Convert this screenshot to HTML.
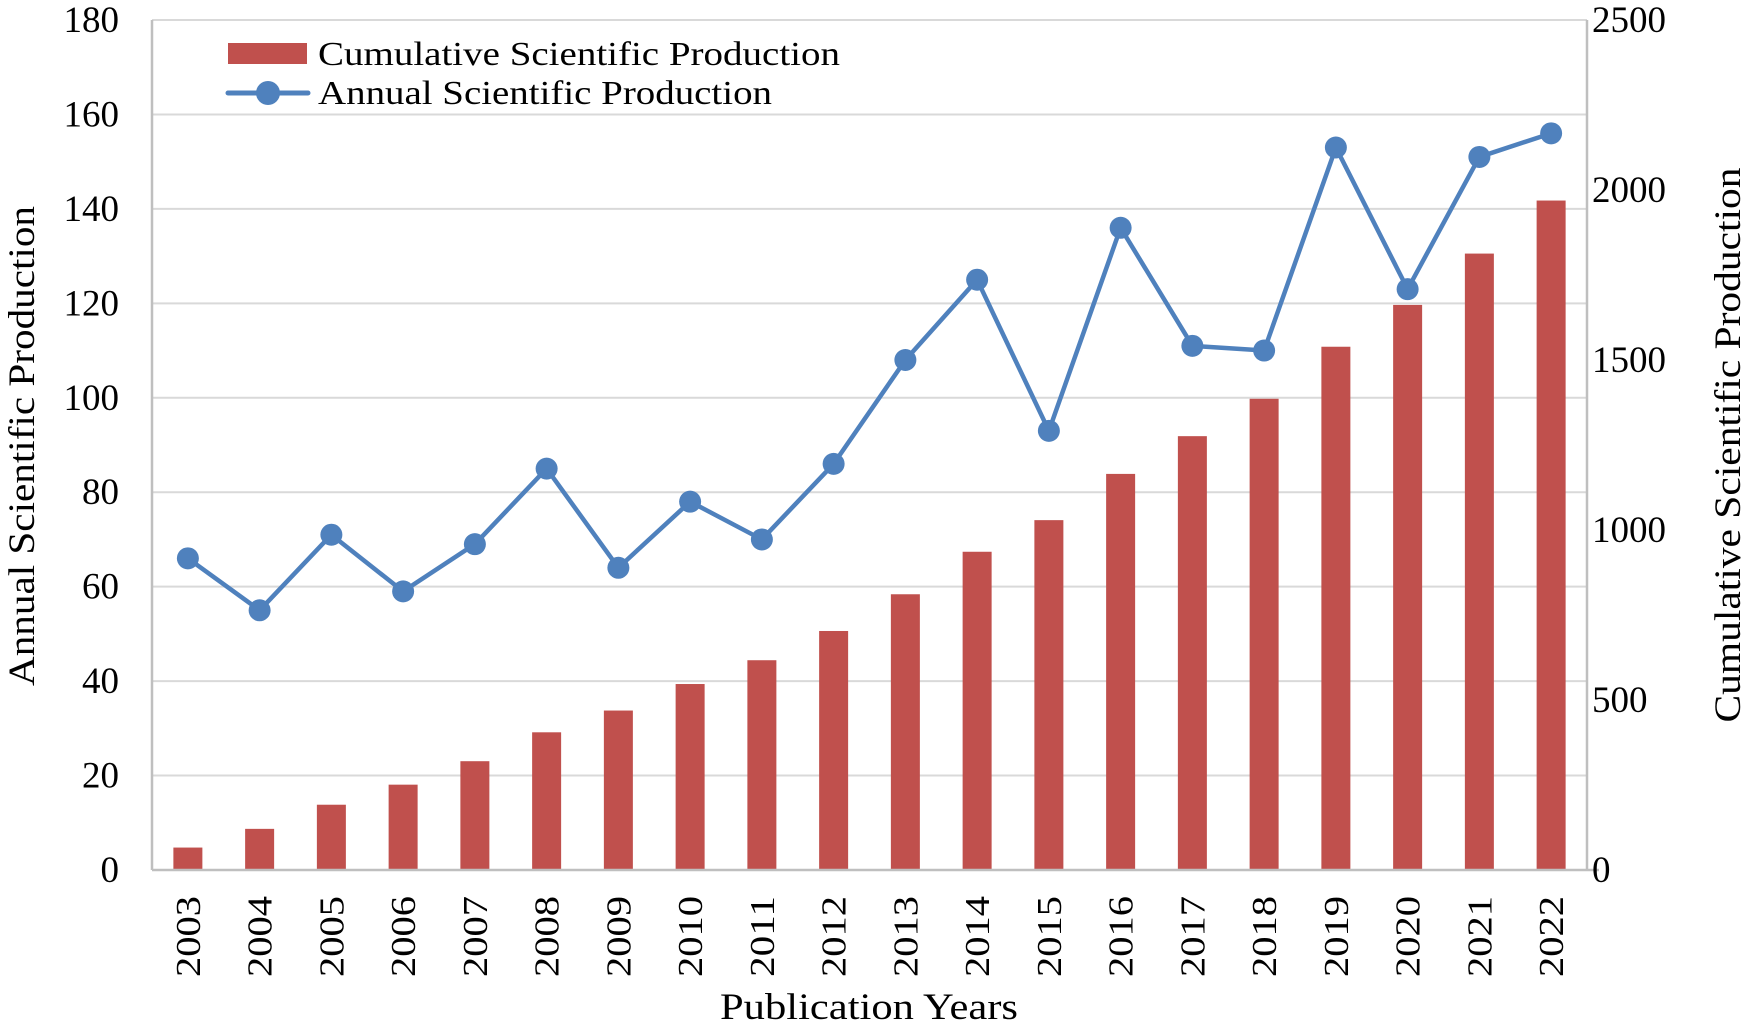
<!DOCTYPE html>
<html><head><meta charset="utf-8"><style>html,body{margin:0;padding:0;background:#fff}svg{display:block}text{font-family:"Liberation Serif",serif;fill:#000}</style></head>
<body>
<svg id="chart" width="1748" height="1025" viewBox="0 0 1748 1025" xmlns="http://www.w3.org/2000/svg">
<g id="grid"></g><g id="bars"></g><g id="axes"></g><g id="line"></g><g id="labels"></g>
<g>
<rect x="228" y="43" width="79" height="21" fill="#C0504D"/>
<text x="318" y="65" font-size="34" textLength="522" lengthAdjust="spacingAndGlyphs">Cumulative Scientific Production</text>
<line x1="228" y1="93" x2="308" y2="93" stroke="#4F81BD" stroke-width="5" stroke-linecap="round"/>
<circle cx="268" cy="93" r="12" fill="#4F81BD"/>
<text x="318" y="104" font-size="34" textLength="454" lengthAdjust="spacingAndGlyphs">Annual Scientific Production</text>
</g>
<text x="869" y="1019" font-size="37" text-anchor="middle" textLength="298" lengthAdjust="spacingAndGlyphs">Publication Years</text>
<text transform="translate(34,446) rotate(-90)" font-size="37" text-anchor="middle" textLength="480" lengthAdjust="spacingAndGlyphs">Annual Scientific Production</text>
<text transform="translate(1740,445) rotate(-90)" font-size="37" text-anchor="middle" textLength="555" lengthAdjust="spacingAndGlyphs">Cumulative Scientific Production</text>
</svg>
<script>
const years=["2003","2004","2005","2006","2007","2008","2009","2010","2011","2012","2013","2014","2015","2016","2017","2018","2019","2020","2021","2022"];
const annual=[66,55,71,59,69,85,64,78,70,86,108,125,93,136,111,110,153,123,151,156];
const cumulative=[66,121,192,251,320,405,469,547,617,703,811,936,1029,1165,1276,1386,1539,1662,1813,1969];
const leftTicks=[0,20,40,60,80,100,120,140,160,180];
const rightTicks=[0,500,1000,1500,2000,2500];
const L=152,R=1587,T=20,B=870;
const NS="http://www.w3.org/2000/svg";
const xC=i=>L+(i+0.5)*(R-L)/years.length;
const yL=v=>B-(v/180)*(B-T);
const yR=v=>B-(v/2500)*(B-T);
function mk(tag,attrs,parent,txt){const e=document.createElementNS(NS,tag);for(const k in attrs)e.setAttribute(k,attrs[k]);if(txt!==undefined)e.textContent=txt;document.getElementById(parent).appendChild(e);return e;}
leftTicks.forEach(t=>{
  if(t>0){const g=mk('line',{x1:L,x2:R,y1:yL(t),y2:yL(t),stroke:'#d9d9d9','stroke-width':2},'grid');
  
  }
  const tx=mk('text',{x:119,y:yL(t)+12,'font-size':37,'text-anchor':'end'},'labels',String(t));
  
  
});
rightTicks.forEach(t=>{
  const tx=mk('text',{x:1592,y:yR(t)+12,'font-size':37},'labels',String(t));
  
  
});
const bw=29;
cumulative.forEach((v,i)=>{
  const r=mk('rect',{x:xC(i)-bw/2,y:yR(v),width:bw,height:B-yR(v),fill:'#C0504D'},'bars');
  
  
  const tx=mk('text',{transform:`translate(${xC(i)+12},896) rotate(-90)`,'font-size':35,'text-anchor':'end',textLength:81,lengthAdjust:'spacingAndGlyphs'},'labels',years[i]);
  
  
});
const a1=mk('line',{x1:L,x2:L,y1:T,y2:B,stroke:'#bfbfbf','stroke-width':2.5},'axes');


const a2=mk('line',{x1:R,x2:R,y1:T,y2:B,stroke:'#bfbfbf','stroke-width':2.5},'axes');


const a3=mk('line',{x1:L,x2:R+12,y1:B,y2:B,stroke:'#bfbfbf','stroke-width':2.5},'axes');


const pts=annual.map((v,i)=>xC(i)+','+yL(v)).join(' ');
const pl=mk('polyline',{points:pts,fill:'none',stroke:'#4F81BD','stroke-width':4.5,'stroke-linejoin':'round'},'line');


annual.forEach((v,i)=>{
  const c=mk('circle',{cx:xC(i),cy:yL(v),r:11,fill:'#4F81BD'},'line');
  
  
});
</script>
</body></html>
